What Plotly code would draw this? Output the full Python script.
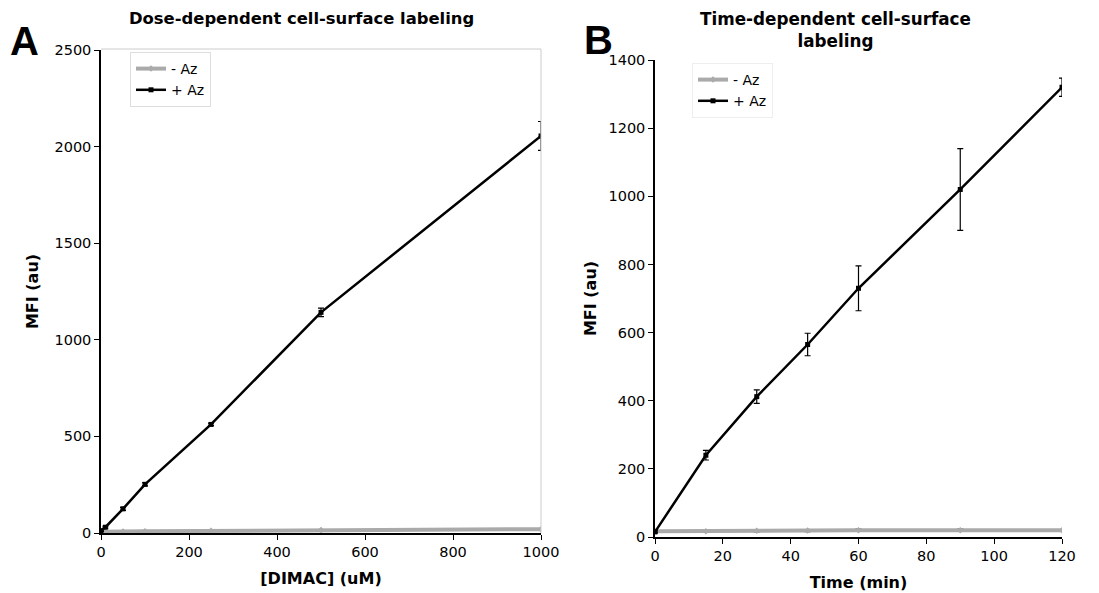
import plotly.graph_objects as go

# Panel A: dose dependence
dose = [0, 10, 50, 100, 250, 500, 1000]
a_plus = [12, 30, 125, 252, 562, 1142, 2055]
a_plus_err = [4, 5, 8, 8, 6, 22, 75]
a_minus = [6, 7, 8, 9, 11, 15, 20]
a_minus_err = [1, 1, 1, 1, 1, 2, 2]

# Panel B: time dependence
time = [0, 15, 30, 45, 60, 90, 120]
b_plus = [15, 240, 412, 565, 730, 1020, 1320]
b_plus_err = [3, 14, 20, 33, 66, 120, 27]
b_minus = [17, 17, 18, 19, 20, 20, 20]
b_minus_err = [2, 3, 3, 3, 3, 3, 2]

W, H = 1099, 593
FONT = "DejaVu Sans"

def px_x(x):
    return x / W

def px_y(y):
    return 1 - y / H

fig = go.Figure()

gray = "#aaaaaa"

def add_series(x, y, err, name, color, lw, msym, msize, xa, ya, leg, ecolor):
    fig.add_trace(go.Scatter(
        x=x, y=y, mode="lines+markers", name=name,
        line=dict(color=color, width=lw),
        marker=dict(color=color, symbol=msym, size=msize),
        error_y=dict(type="data", array=err, visible=True, color=ecolor,
                     thickness=1.2, width=3),
        xaxis=xa, yaxis=ya, legend=leg,
    ))

add_series(dose, a_minus, a_minus_err, "- Az", gray, 4, "diamond", 5, "x", "y", "legend", gray)
add_series(dose, a_plus, a_plus_err, "+ Az", "black", 2.5, "square", 5, "x", "y", "legend", "black")
add_series(time, b_minus, b_minus_err, "- Az", gray, 4, "diamond", 5, "x2", "y2", "legend2", "black")
add_series(time, b_plus, b_plus_err, "+ Az", "black", 2.5, "square", 5, "x2", "y2", "legend2", "black")

axis_common = dict(
    showline=True, linecolor="black", linewidth=1.5,
    ticks="outside", ticklen=5, tickcolor="black", tickwidth=1.2,
    showgrid=False, zeroline=False, automargin=False,
    tickfont=dict(family=FONT, size=14.5, color="black"),
)
title_font = dict(size=16, family=FONT, color="black")

fig.update_layout(
    width=W, height=H, autosize=False,
    margin=dict(l=0, r=0, t=0, b=0, pad=0, autoexpand=False),
    plot_bgcolor="white", paper_bgcolor="white",
    font=dict(family=FONT, color="black"),
    xaxis=dict(domain=[px_x(101), px_x(541)], range=[0, 1000], dtick=200,
               anchor="y",
               title=dict(text="<b>[DIMAC] (uM)</b>", font=title_font, standoff=14),
               **axis_common),
    yaxis=dict(domain=[px_y(533), px_y(50)], range=[0, 2500], dtick=500,
               anchor="x",
               title=dict(text="<b>MFI (au)</b>", font=title_font, standoff=12),
               **axis_common),
    xaxis2=dict(domain=[px_x(655), px_x(1062)], range=[0, 120], dtick=20,
                anchor="y2",
                title=dict(text="<b>Time (min)</b>", font=title_font, standoff=14),
                **axis_common),
    yaxis2=dict(domain=[px_y(537), px_y(60)], range=[0, 1400], dtick=200,
                anchor="x2",
                title=dict(text="<b>MFI (au)</b>", font=title_font, standoff=8),
                **axis_common),
    legend=dict(x=px_x(130), y=px_y(52), xanchor="left", yanchor="top",
                bgcolor="white", bordercolor="#dddddd", borderwidth=1,
                font=dict(family=FONT, size=14), tracegroupgap=0,
                itemwidth=30),
    legend2=dict(x=px_x(692), y=px_y(63), xanchor="left", yanchor="top",
                 bgcolor="white", bordercolor="#eeeeee", borderwidth=1,
                 font=dict(family=FONT, size=14), tracegroupgap=0,
                 itemwidth=30),
    showlegend=True,
)

# Light gray frame on top/right of panel A
fig.add_shape(type="line", xref="paper", yref="paper",
              x0=px_x(101), x1=px_x(541), y0=px_y(49), y1=px_y(49),
              line=dict(color="#cccccc", width=1))
fig.add_shape(type="line", xref="paper", yref="paper",
              x0=px_x(541), x1=px_x(541), y0=px_y(49), y1=px_y(533),
              line=dict(color="#cccccc", width=1))

annots = [
    dict(text="<b>Dose-dependent cell-surface labeling</b>", x=px_x(301), y=px_y(18), size=16.4),
    dict(text="<b>Time-dependent cell-surface<br>labeling</b>", x=px_x(835), y=px_y(30), size=16.8),
    dict(text="<b>A</b>", x=px_x(24), y=px_y(41), size=40, family="Liberation Sans"),
    dict(text="<b>B</b>", x=px_x(598), y=px_y(40), size=40, family="Liberation Sans"),
]
for a in annots:
    fig.add_annotation(text=a["text"], x=a["x"], y=a["y"], xref="paper", yref="paper",
                       showarrow=False, xanchor="center", yanchor="middle",
                       font=dict(family=a.get("family", FONT), size=a["size"], color="black"))

fig.write_html("out.html")
